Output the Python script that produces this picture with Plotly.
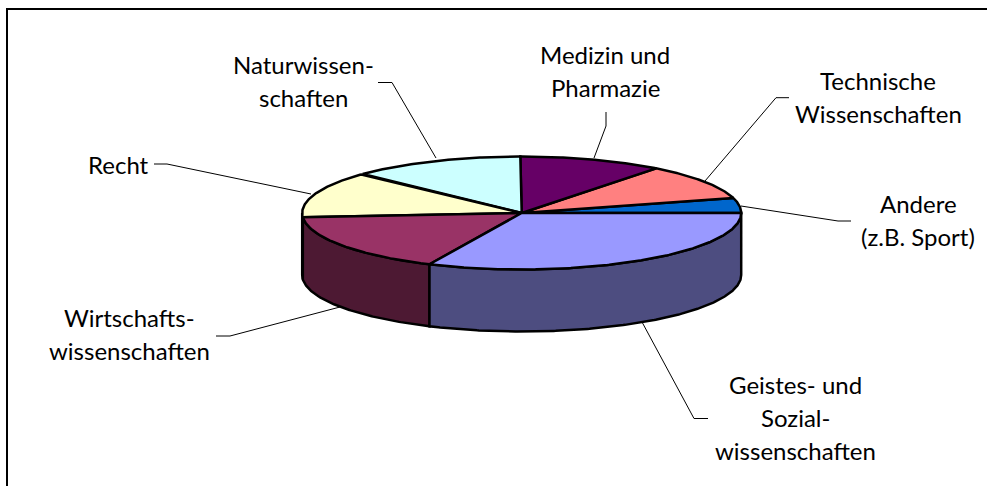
import numpy as np
import plotly.graph_objects as go

# ---- data -------------------------------------------------------------
categories = ["Andere (z.B. Sport)", "Technische Wissenschaften", "Medizin und Pharmazie",
              "Naturwissenschaften", "Recht", "Wirtschaftswissenschaften",
              "Geistes- und Sozialwissenschaften"]
shares = [4.3, 10.2, 10.6, 12.8, 13.3, 16.9, 31.9]
top_colors = ["#0066CC", "#FF8080", "#660066", "#CCFFFF", "#FFFFCC", "#993366", "#9999FF"]
side_colors = ["#003366", "#804040", "#330033", "#668080", "#808066", "#4D1933", "#4D4D80"]
label_lines = [["Andere", "(z.B. Sport)"], ["Technische", "Wissenschaften"], ["Medizin und", "Pharmazie"],
               ["Naturwissen-", "schaften"], ["Recht"], ["Wirtschafts-", "wissenschaften"],
               ["Geistes- und", "Sozial-", "wissenschaften"]]

# ---- layout (page pixels) -----------------------------------------------
W, H = 987, 486
CX, CY, RX, RY, DEPTH = 521.7, 213.0, 219.5, 56.5, 62.0
LINE_H = 33
LABEL_POS = [(918, 203), (878, 80), (605, 54), (303, 64), (118, 164), (129, 317), (795, 384)]
LEADERS = [
    [(851, 221), (838, 221), (741, 206)],
    [(789, 97.7), (776, 97.7), (705, 181)],
    [(606, 112), (606, 126), (594, 158)],
    [(378, 82.5), (392, 82.5), (436, 158)],
    [(154, 164), (167, 164), (311, 194)],
    [(216, 336), (230, 336), (340, 307)],
    [(708, 418.5), (694, 418.5), (642, 322)],
]
FONT = dict(family="Lato", size=24, color="#000000")

def rim(a0, a1):
    t = np.radians(np.linspace(a0, a1, max(int(abs(a1 - a0) * 2), 2)))
    return CX + RX * np.cos(t), CY - RY * np.sin(t)

edges = np.concatenate([[0.0], np.cumsum(shares)]) / sum(shares) * 360.0
fig = go.Figure()

# leader lines
for pts in LEADERS:
    fig.add_trace(go.Scatter(x=[p[0] for p in pts], y=[p[1] for p in pts], mode="lines",
                             line=dict(color="#000000", width=1), hoverinfo="skip"))

# side walls (only the part facing the viewer, 180..360 degrees)
for name, a0, a1, col in zip(categories, edges[:-1], edges[1:], side_colors):
    lo, hi = max(a0, 180.0), min(a1, 360.0)
    if hi <= lo:
        continue
    x, y = rim(lo, hi)
    fig.add_trace(go.Scatter(x=np.r_[x, x[::-1], x[0]], y=np.r_[y, (y + DEPTH)[::-1], y[0]],
                             mode="lines", fill="toself", fillcolor=col, name=name,
                             line=dict(color="#000000", width=2.5), hoverinfo="skip"))

# top slices
for name, a0, a1, col in zip(categories, edges[:-1], edges[1:], top_colors):
    x, y = rim(a0, a1)
    fig.add_trace(go.Scatter(x=np.r_[CX, x, CX], y=np.r_[CY, y, CY],
                             mode="lines", fill="toself", fillcolor=col, name=name,
                             line=dict(color="#000000", width=2.5), hoverinfo="skip"))

# labels, one annotation per line because the line spacing is wide
for lines, (lx, ly) in zip(label_lines, LABEL_POS):
    for i, s in enumerate(lines):
        fig.add_annotation(x=lx, y=ly + i * LINE_H, text=s, showarrow=False,
                           xanchor="center", yanchor="middle", font=FONT)

# frame: only top and left edges fall inside the picture
fig.add_shape(type="line", x0=7, x1=W, y0=9, y1=9, line=dict(color="#000000", width=2))
fig.add_shape(type="line", x0=7, x1=7, y0=8, y1=H, line=dict(color="#000000", width=2))

fig.update_layout(width=W, height=H, margin=dict(l=0, r=0, t=0, b=0), showlegend=False,
                  paper_bgcolor="#FFFFFF", plot_bgcolor="#FFFFFF",
                  xaxis=dict(range=[0, W], visible=False, fixedrange=True),
                  yaxis=dict(range=[H, 0], visible=False, fixedrange=True))
fig.write_html("out.html", config=dict(displayModeBar=False),
               post_script="document.body.style.margin='0';document.body.style.overflow='hidden';")
